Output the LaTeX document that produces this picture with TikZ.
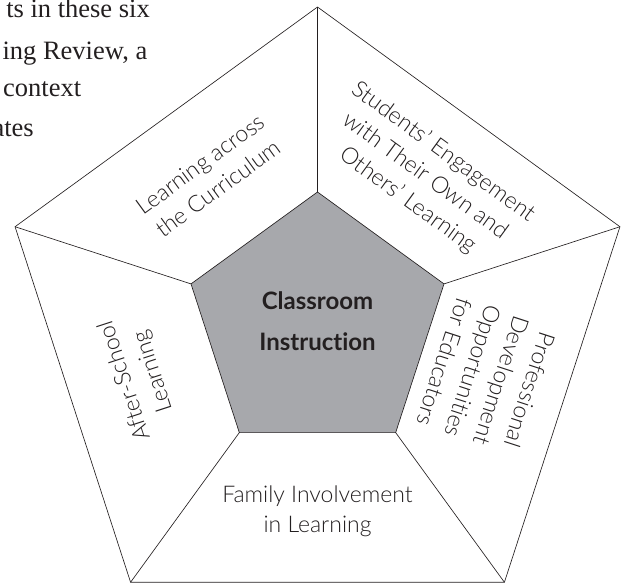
\documentclass[tikz,border=0pt]{standalone}
\usepackage{fontspec}
\setmainfont{Lato}[Ligatures={TeX,NoCommon}]
\newfontfamily\bookfont{Liberation Serif}
\IfFontExistsTF{Lato Light}{\newfontfamily\thinfont{Lato Light}[Ligatures={TeX,NoCommon}]}{\newfontfamily\thinfont{Lato}[Ligatures={TeX,NoCommon}]}
\usetikzlibrary{positioning}

\definecolor{coregray}{RGB}{167,168,172}
\definecolor{inkgray}{RGB}{35,31,32}

\tikzset{
  facet/.style={font=\thinfont\fontsize{23}{30}\selectfont, align=center, inner sep=0pt, text=inkgray},
  rim/.style={line width=0.65pt, draw=inkgray},
  bodytext/.style={font=\bookfont\fontsize{26.5}{40}\selectfont, inner sep=0pt, text=inkgray}
}

\begin{document}
\begin{tikzpicture}[x=1pt, y=1pt]
        \useasboundingbox (-317.5,-261) rectangle (303.5,325);

        % Running text beside the figure
        \node[bodytext, anchor=base east] (line1) at (-167.5,307) {ts in these six};
        \node[bodytext, anchor=base east] (line2) at (-170,265.5) {ing Review, a};
        \node[bodytext, anchor=base west] (line3) at (-314.5,228) {context};
        \node[bodytext, anchor=base east] (line4) at (-283.5,188) {ates};

        % Corners of both pentagons
        \foreach \i in {0,...,4} {
          \coordinate (out\i) at (90+72*\i:318);
          \coordinate (in\i) at (90+72*\i:133);
        }

        % Outer pentagon
        \draw[rim] (out0) -- (out1) -- (out2) -- (out3) -- (out4) -- cycle;

        % Shaded core
        \filldraw[rim, fill=coregray] (in0) -- (in1) -- (in2) -- (in3) -- (in4) -- cycle;

        % Spokes
        \foreach \i in {0,...,4}
          \draw[rim] (out\i) -- (in\i);

        % Labels round the core
        \node[facet, rotate=36] (curric) at (126:184) {Learning across\\the Curriculum};
        \node[facet, rotate=-36] (engage) at (54:184) {Students’ Engagement\\with Their Own and\\Others’ Learning};
        \node[facet, rotate=-108] (profdev) at (170,-51) {Professional\\Development\\Opportunities\\for Educators};
        \node[facet, rotate=108] (afterschool) at (-178,-51) {After-School\\Learning};
        \node[facet] (family) at (0,-186) {Family Involvement\\in Learning};

        % Centre
        \node[font=\bfseries\fontsize{24}{41}\selectfont, align=center, inner sep=0pt, text=inkgray] (core) at (0,3.5) {Classroom\\Instruction};

      \end{tikzpicture}
\end{document}
